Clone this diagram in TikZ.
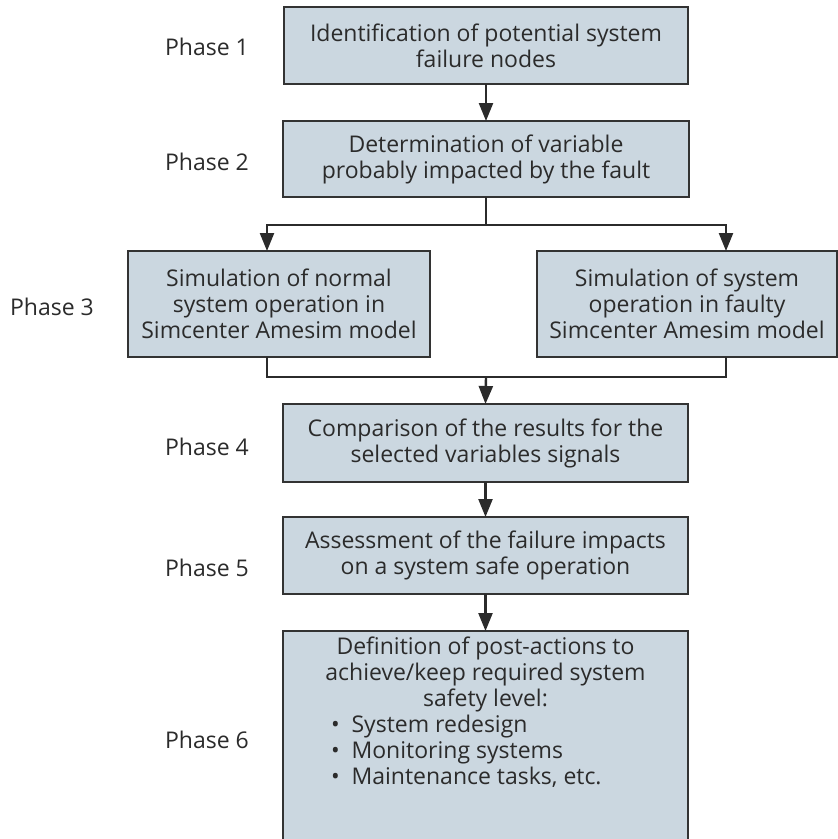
\documentclass[tikz,border=0pt]{standalone}
\usepackage{fontspec}
\setmainfont{Open Sans}
\usetikzlibrary{arrows.meta,calc}
\definecolor{boxfill}{HTML}{CBD7E0}
\definecolor{boxline}{HTML}{333333}
\definecolor{txt}{HTML}{2B2B2B}
\begin{document}
\begin{tikzpicture}[x=1pt,y=-1pt,
  every node/.style={inner sep=0pt,outer sep=0pt,text=txt,font=\fontsize{23}{26}\selectfont},
  box/.style={draw=boxline,line width=1.2pt,fill=boxfill,align=center,anchor=center},
  phase/.style={anchor=center},
  arr/.style={draw=txt,line width=2.4pt,-{Triangle[length=18pt,width=14pt]}},
  ln/.style={draw=txt,line width=2.4pt}]
\useasboundingbox (0,0) rectangle (838,839);
\node[box,minimum width=404pt,minimum height=77pt] (b1) at (486,45.5) {Identification of potential system\\failure nodes};
\node[box,minimum width=406pt,minimum height=76pt] (b2) at (486,159) {Determination of variable\\probably impacted by the fault};
\node[box,minimum width=302pt,minimum height=106pt] (b3l) at (279,304) {Simulation of normal\\system operation in\\Simcenter Amesim model};
\node[box,minimum width=300pt,minimum height=106pt] (b3r) at (687,304) {Simulation of system\\operation in faulty\\Simcenter Amesim model};
\node[box,minimum width=405pt,minimum height=78pt] (b4) at (485.5,443) {Comparison of the results for the\\selected variables signals};
\node[box,minimum width=405pt,minimum height=77pt] (b5) at (485.5,555.5) {Assessment of the failure impacts\\on a system safe operation};
\node[box,minimum width=405pt,minimum height=260pt] (b6) at (485.5,761) {};
\node[align=center,anchor=north] (b6t) at (485.5,637) {Definition of post-actions to\\achieve/keep required system\\safety level:};
\node[align=left,anchor=north west] (b6l) at (331,715) {\textbullet\ \ System redesign\\\textbullet\ \ Monitoring systems\\\textbullet\ \ Maintenance tasks, etc.};
\node[phase] (p1) at (207,47) {Phase 1};
\node[phase] (p2) at (207,162) {Phase 2};
\node[phase] (p3) at (52,307) {Phase 3};
\node[phase] (p4) at (207,447) {Phase 4};
\node[phase] (p5) at (207,568) {Phase 5};
\node[phase] (p6) at (207,740) {Phase 6};
\coordinate (split) at (486,225);
\coordinate (inl) at (267,251);
\coordinate (inr) at (726,251);
\coordinate (outl) at (267,357);
\coordinate (outr) at (726,357);
\coordinate (merge) at (486,377);
\draw[arr] (b1.south) -- (b2.north);
\draw[ln] (b2.south) -- (split);
\draw[arr] (split) -| (inl);
\draw[arr] (split) -| (inr);
\draw[ln] (outl) |- (merge);
\draw[ln] (outr) |- (merge);
\draw[arr] (merge) -- (b4.north);
\draw[arr] (b4.south) -- (b5.north);
\draw[arr] (b5.south) -- (b6.north);
\end{tikzpicture}
\end{document}
